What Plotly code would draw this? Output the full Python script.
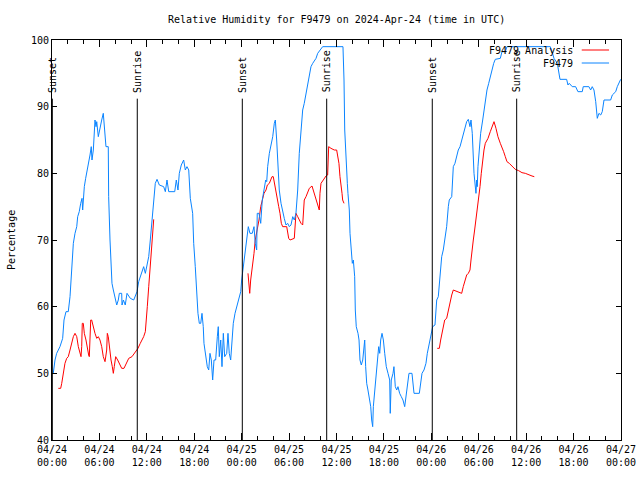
import pandas as pd
import plotly.graph_objects as go

TITLE = "Relative Humidity for F9479 on 2024-Apr-24 (time in UTC)"
START = "2024-04-24 00:00"
END = "2024-04-27 00:00"

# Observed station series (hours since 2024-04-24 00:00 UTC, percent)
obs_name = "F9479"
obs_hours = [0.16, 0.38, 0.59, 1.01, 1.35, 1.52, 1.77, 2.06, 2.28, 2.40, 2.53, 2.70, 2.91, 3.13, 3.25, 3.45,
             3.63, 3.80, 3.88, 3.96, 4.09, 4.26, 4.47, 4.64, 4.81, 4.97, 5.06, 5.23, 5.35, 5.44, 5.57, 5.66,
             5.86, 6.07, 6.29, 6.49, 6.62, 6.83, 7.12, 7.17, 7.34, 7.47, 7.59, 7.76, 7.97, 8.19, 8.39, 8.52,
             8.82, 8.86, 9.03, 9.27, 9.49, 9.91, 10.34, 10.76, 10.97, 11.30, 11.60, 11.81, 12.02, 12.24, 12.44,
             12.65, 12.87, 13.07, 13.29, 13.58, 14.13, 14.34, 14.55, 14.77, 15.53, 15.73, 15.94, 16.11, 16.36,
             16.66, 16.87, 17.08, 17.30, 17.50, 17.80, 17.93, 18.13, 18.31, 18.47, 18.64, 18.82, 18.98, 19.14,
             19.23, 19.45, 19.65, 19.83, 19.99, 20.16, 20.33, 20.50, 20.71, 20.92, 21.04, 21.17, 21.35, 21.51,
             21.68, 21.85, 22.11, 22.27, 22.43, 22.61, 22.78, 22.94, 23.16, 23.37, 23.62, 23.88, 24.00, 24.21,
             24.38, 24.64, 24.84, 25.05, 25.34, 25.56, 25.72, 25.90, 25.97, 26.19, 26.41, 26.61, 26.83, 27.04,
             27.17, 27.29, 27.50, 27.71, 27.93, 28.13, 28.26, 28.43, 28.56, 28.69, 28.76, 28.98, 29.19, 29.39,
             29.61, 29.82, 30.03, 30.24, 30.46, 30.66, 30.87, 31.09, 31.29, 31.51, 31.72, 31.92, 32.14, 32.35,
             32.56, 32.77, 32.99, 33.41, 33.62, 34.04, 34.25, 36.82, 36.95, 37.04, 37.20, 37.37, 37.45, 37.62,
             37.71, 37.87, 38.00, 38.13, 38.30, 38.38, 38.50, 38.72, 38.85, 38.97, 39.14, 39.32, 39.44, 39.57,
             39.69, 39.82, 39.98, 40.15, 40.33, 40.45, 40.58, 40.66, 40.83, 41.00, 41.16, 41.34, 41.47, 41.59,
             41.76, 41.93, 42.10, 42.30, 42.52, 42.73, 42.80, 42.93, 43.15, 43.27, 43.44, 43.62, 43.78, 43.99,
             44.20, 44.41, 44.63, 44.83, 45.05, 45.17, 45.55, 45.81, 46.48, 46.65, 46.82, 47.07, 47.32, 47.49,
             47.66, 47.92, 48.17, 48.46, 48.68, 48.88, 49.10, 49.31, 49.51, 49.73, 49.94, 50.15, 50.27, 50.58,
             50.78, 50.99, 51.21, 51.41, 51.63, 51.84, 52.04, 52.26, 52.47, 52.68, 52.89, 53.02, 53.18, 53.40,
             53.56, 53.65, 53.74, 53.81, 53.90, 54.07, 54.24, 54.50, 54.66, 54.83, 55.04, 55.26, 55.46, 55.68,
             55.89, 56.09, 56.73, 56.94, 57.36, 57.57, 63.05, 63.27, 63.52, 63.94, 64.15, 64.28, 65.12, 65.29,
             65.45, 65.63, 65.83, 66.26, 66.55, 67.10, 67.22, 67.94, 68.16, 68.36, 68.58, 68.80, 68.92, 69.00,
             69.21, 69.43, 69.63, 69.85, 70.69, 70.90, 71.33, 71.53, 71.96]
obs_values = [50, 52, 53, 54, 55.25, 58, 59.25, 59.25, 61.5, 63.5, 66.5, 69.5, 71, 72, 73.5, 74.25,
              75.5, 76.25, 74.5, 76.5, 78, 79.25, 80.5, 81.25, 82.75, 84, 82, 83.5, 86.5, 88, 87, 87.75,
              85.5, 86.5, 88, 89, 87.5, 84, 84, 76.5, 70, 66.5, 63.5, 62.5, 61.5, 60.25, 61, 62,
              62, 60.25, 61, 60.25, 62, 61.25, 61, 62.25, 63.75, 65, 66, 65, 66, 67.5, 70,
              72.5, 76, 78.5, 79.1, 78.25, 78, 77.25, 79, 77.25, 77.25, 79, 77.5, 80, 81.25,
              82, 80.5, 81, 80.5, 76.25, 74, 69.5, 66, 62, 59, 57.5, 57.5, 59, 57,
              54.5, 52.75, 51, 50.5, 53, 52, 49, 52, 52, 55.5, 57, 52.5, 55, 51,
              56, 52.5, 53, 56, 53, 52, 55.5, 57.5, 59, 60, 61, 62.25, 64, 66,
              67.5, 70, 72, 71, 71, 72, 69.5, 68.5, 74, 74, 72.5, 76, 77.5, 79,
              78.75, 81, 83, 84, 85.5, 87.5, 88, 85, 82, 80, 77.5, 75.5, 74, 73.25,
              72.25, 72.5, 72, 72.25, 73.5, 73, 74, 77.5, 83, 87, 89.5, 90.5, 92, 93.5,
              95, 96, 96.5, 97.25, 98, 98.75, 99, 99, 94, 86.5, 81.5, 78.5, 77, 74.5,
              71, 68.5, 66.5, 67, 64.5, 59.5, 57, 56, 55, 52, 51.25, 52, 54, 55,
              51, 48.5, 47.5, 46.5, 45, 43, 42, 45, 47, 50, 52, 54, 53, 55,
              56, 55, 53, 51, 50, 49, 44, 49, 50, 51, 48, 47.5, 48, 47,
              46.5, 46, 45, 47, 49, 50, 50, 47, 47, 49, 50, 50.5, 51.5, 53,
              54, 55.5, 57, 57.25, 61, 61.5, 65, 67.5, 68.5, 70.5, 72, 75, 76, 76.5,
              81, 81.5, 82.5, 83.5, 84, 85, 86, 87, 87.75, 88.1, 87, 88, 86, 80,
              78.5, 77, 79, 78, 81, 84, 86, 88, 89.25, 91, 92.5, 93.5, 94.5, 95.5,
              96.5, 97.1, 97.25, 98.25, 98.25, 99, 99, 98.25, 97.25, 96.5, 95.25, 94.1, 94.1, 93.25,
              93.5, 93.25, 93, 93, 92.25, 92.25, 93, 93, 92.5, 93, 92.5, 90.75, 89.25, 88.25,
              89, 88.75, 89.25, 91, 91, 91.75, 92.25, 93, 94.1]

# Analysis series (None marks gaps between analysis segments)
ana_name = "F9479 Analysis"
ana_hours = [0.80, 1.10, 1.23, 1.43, 1.64, 1.86, 2.06, 2.28, 2.49, 2.70, 2.91, 3.13, 3.33, 3.54, 3.67, 3.76,
             3.83, 3.96, 4.09, 4.30, 4.47, 4.64, 4.72, 4.81, 4.90, 5.02, 5.23, 5.44, 5.66, 5.86, 6.07, 6.29,
             6.49, 6.71, 6.92, 7.00, 7.12, 7.34, 7.47, 7.63, 7.76, 7.88, 8.06, 8.31, 8.60, 8.82, 9.11, 9.71,
             10.12, 10.54, 10.88, 11.17, 11.39, 11.60, 11.81, 11.93, 12.06, 12.24, 12.36, 12.49, 12.62, 12.74,
             12.87, 18.00,
             24.80, 24.93, 25.02, 25.14, 25.27, 25.40, 25.56, 25.72, 25.98, 26.19, 26.41, 26.61, 26.83, 27.08,
             27.25, 27.50, 27.84, 28.00, 28.26, 28.43, 28.69, 28.85, 29.02, 29.19, 29.70, 29.95, 30.12, 30.66,
             30.79, 30.87, 31.09, 31.29, 31.51, 31.72, 31.92, 32.14, 32.35, 32.56, 32.90, 33.19, 33.41, 33.62,
             33.82, 33.91, 34.04, 34.33, 34.67, 34.88, 35.01, 35.30, 35.72, 36.02, 36.19, 36.31, 36.44, 36.57,
             36.70, 36.78, 36.95, 42.00,
             48.75, 49.01, 49.18, 49.35, 49.51, 49.69, 49.94, 50.15, 50.36, 50.58, 50.78, 51.21, 51.63, 51.84,
             52.04, 52.26, 52.47, 52.68, 52.89, 53.02, 53.14, 53.31, 53.48, 53.65, 53.81, 53.99, 54.16, 54.32,
             54.50, 54.66, 54.83, 55.17, 55.46, 55.68, 55.93, 56.18, 56.43, 56.73, 56.94, 57.15, 57.36, 57.57,
             57.86, 58.21, 58.62, 59.05, 59.47, 59.89, 60.32, 60.74, 61.03]
ana_values = [47.75, 47.75, 48.5, 50, 51.5, 52.25, 52.5, 53.5, 54.5, 55.5, 56, 55.5, 54, 52.75, 52.5, 54,
              57.5, 57.5, 56, 55, 53.5, 52.75, 52.5, 56, 58, 58, 56.75, 56, 55.25, 55.5, 55, 54,
              52.5, 51.75, 53.5, 56, 55.5, 53, 52, 51, 50, 51, 52.5, 52, 51.25, 50.75, 50.75, 52.25,
              52.5, 53.25, 53.75, 54.5, 55, 55.5, 56.25, 57.75, 60, 63, 65, 67, 70, 72,
              73.1, None,
              65, 63, 62, 64, 65, 66.5, 68, 70, 71.5, 73, 75, 76, 77, 77.5,
              78.25, 78.5, 79.5, 79.5, 78, 76.5, 75, 74, 72.5, 72, 72, 70.25, 70, 70.25,
              72, 74, 73.5, 73, 72.5, 72.25, 76, 76.5, 77.25, 77.75, 78.1, 77, 76, 75.25,
              74.5, 77, 78.5, 79, 79.6, 79.75, 84, 83.75, 83.5, 83.5, 82, 81.5, 79.5, 78.5,
              77, 76, 75.5, None,
              53.75, 53.75, 55, 56, 57, 58, 58.25, 59.5, 60.5, 61.75, 62.5, 62.25, 62, 62,
              63, 64, 64.75, 65, 65.5, 67, 68.5, 70, 71.5, 73, 74.5, 76, 78, 80,
              82, 83.5, 84.5, 85.25, 86.25, 87, 87.75, 86.75, 85.5, 84.5, 84, 83.25, 82.5, 81.75,
              81.5, 81.1, 80.6, 80.4, 80.1, 80, 79.75, 79.6, 79.5]

# Sunrise / sunset events (hours since start)
sun_hours = [0.04, 10.79, 24.08, 34.76, 48.12, 58.80]
sun_labels = ["Sunset", "Sunrise", "Sunset", "Sunrise", "Sunset", "Sunrise"]

Y_RANGE = [40, 100]
SUN_LINE_TOP = 91.2

base = pd.Timestamp(START)
to_time = lambda hrs: [base + pd.Timedelta(hours=h) for h in hrs]

FONT = "DejaVu Sans Mono"
RED = "#ff0000"
BLUE = "#0a84ff"

fig = go.Figure()
fig.add_trace(go.Scatter(x=to_time(ana_hours), y=ana_values, mode="lines", name=ana_name,
                         line=dict(color=RED, width=1), connectgaps=False))
fig.add_trace(go.Scatter(x=to_time(obs_hours), y=obs_values, mode="lines", name=obs_name,
                         line=dict(color=BLUE, width=1)))

for t, lab in zip(to_time(sun_hours), sun_labels):
    fig.add_shape(type="line", x0=t, x1=t, y0=Y_RANGE[0], y1=SUN_LINE_TOP, xref="x", yref="y",
                  line=dict(color="black", width=1))
    fig.add_annotation(x=t, y=SUN_LINE_TOP, xref="x", yref="y", text=lab, textangle=-90,
                       showarrow=False, xanchor="center", yanchor="bottom", yshift=4,
                       font=dict(family=FONT, size=10, color="black"))

# Legend drawn gnuplot-style: text right-aligned, sample line to its right
legend_items = [(ana_name, RED, 0.975), (obs_name, BLUE, 0.9425)]
for name, col, yp in legend_items:
    fig.add_annotation(x=0.92, y=yp, xref="paper", yref="paper", text=name, showarrow=False,
                       xanchor="right", yanchor="middle", font=dict(family=FONT, size=10, color="black"))
    fig.add_shape(type="line", x0=0.931, x1=0.979, y0=yp, y1=yp, xref="paper", yref="paper",
                  line=dict(color=col, width=1))

# y-axis title as rotated paper annotation (gnuplot places it at the far left)
fig.add_annotation(x=-0.072, y=0.5, xref="paper", yref="paper", text="Percentage", textangle=-90,
                   showarrow=False, xanchor="center", yanchor="middle",
                   font=dict(family=FONT, size=10, color="black"))

fig.update_layout(
    width=640, height=480,
    margin=dict(l=52, r=19, t=40, b=40, autoexpand=False),
    paper_bgcolor="white", plot_bgcolor="white",
    showlegend=False,
    font=dict(family=FONT, size=10, color="black"),
    title=dict(text=TITLE, x=0.526, xanchor="center", y=0.96, yanchor="middle",
               font=dict(family=FONT, size=10, color="black")),
)
fig.update_xaxes(
    type="date", range=[START, END], automargin=False,
    tick0=START, dtick=6 * 3600000, tickformat="%m/%d<br>%H:%M",
    ticks="inside", ticklen=7, tickcolor="black", tickwidth=1,
    minor=dict(dtick=2 * 3600000, ticks="inside", ticklen=4, tickcolor="black"),
    showline=True, linecolor="black", linewidth=1, mirror="ticks",
    showgrid=False, zeroline=False,
)
fig.update_yaxes(
    range=Y_RANGE, dtick=10, ticks="inside", ticklen=5, tickcolor="black", automargin=False,
    showline=True, linecolor="black", linewidth=1, mirror="ticks",
    showgrid=False, zeroline=False,
)

fig.write_html("out.html", config={"displayModeBar": False},
               post_script="document.body.style.margin='0px';")
